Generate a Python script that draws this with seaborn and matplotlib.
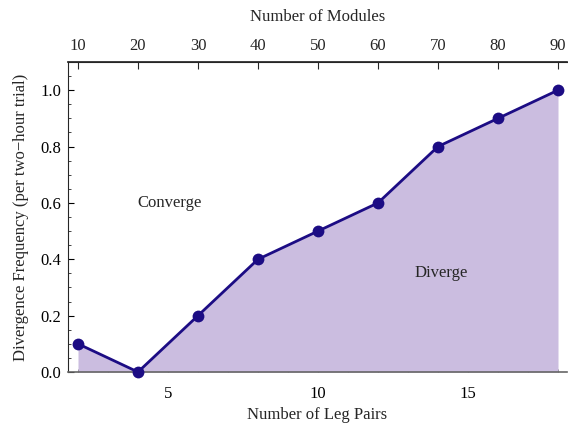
import matplotlib
matplotlib.use("Agg")
import matplotlib.pyplot as plt
import seaborn as sns
import pandas as pd
from matplotlib.ticker import MultipleLocator

leg_pairs = [2, 4, 6, 8, 10, 12, 14, 16, 18]
frequency = [0.1, 0.0, 0.2, 0.4, 0.5, 0.6, 0.8, 0.9, 1.0]
module_ticks = [10, 20, 30, 40, 50, 60, 70, 80, 90]

sns.set_theme(style="ticks")
plt.rcParams['font.family'] = ['Liberation Serif', 'DejaVu Serif']

df = pd.DataFrame({"legs": leg_pairs, "freq": frequency})

fig = plt.figure(figsize=(5.68, 4.29), dpi=100)
ax = fig.add_axes([68/568, 57/429, 499/568, 310/429])

line_color = "#1c0c84"
fill_color = "#cbbde0"
fs = 12

ax.fill_between(df["legs"], 0, df["freq"], color=fill_color, lw=0, zorder=1)
sns.lineplot(data=df, x="legs", y="freq", ax=ax, color=line_color, lw=2,
             marker="o", markersize=8.5, markeredgewidth=0, zorder=3, clip_on=False)

ax.set_xlim(1.667, 18.3)
ax.set_ylim(0, 1.1)
ax.xaxis.set_major_locator(MultipleLocator(5))
ax.xaxis.set_minor_locator(MultipleLocator(1))
ax.yaxis.set_major_locator(MultipleLocator(0.2))
ax.yaxis.set_minor_locator(MultipleLocator(0.05))
ax.yaxis.set_major_formatter(matplotlib.ticker.FormatStrFormatter('%.1f'))

ax.tick_params(which="major", direction="in", length=4, width=0.8, labelsize=fs, colors="black", pad=5)
ax.tick_params(which="minor", direction="in", length=2.5, width=0.6)
ax.tick_params(axis="x", which="both", colors="#555555", labelcolor="black", pad=10)

ax.spines["right"].set_visible(False)
ax.spines["top"].set_visible(True)
ax.spines["bottom"].set_color("#666666")
ax.spines["bottom"].set_linewidth(1.2)
ax.spines["left"].set_linewidth(0.8)
ax.spines["top"].set_linewidth(0.8)

ax.set_xlabel("Number of Leg Pairs", fontsize=fs, labelpad=4)
ax.set_ylabel("Divergence Frequency (per two\u2212hour trial)", fontsize=fs, labelpad=8)

top = ax.secondary_xaxis("top", functions=(lambda x: x * 5, lambda m: m / 5))
top.set_xticks(module_ticks)
top.tick_params(direction="in", length=5, width=0.8, labelsize=fs, pad=6)
top.set_xlabel("Number of Modules", fontsize=fs, labelpad=12)

ax.text(5.05, 0.6, "Converge", fontsize=fs, ha="center", va="center")
ax.text(14.1, 0.35, "Diverge", fontsize=fs, ha="center", va="center")

fig.savefig("out.png", dpi=100)
